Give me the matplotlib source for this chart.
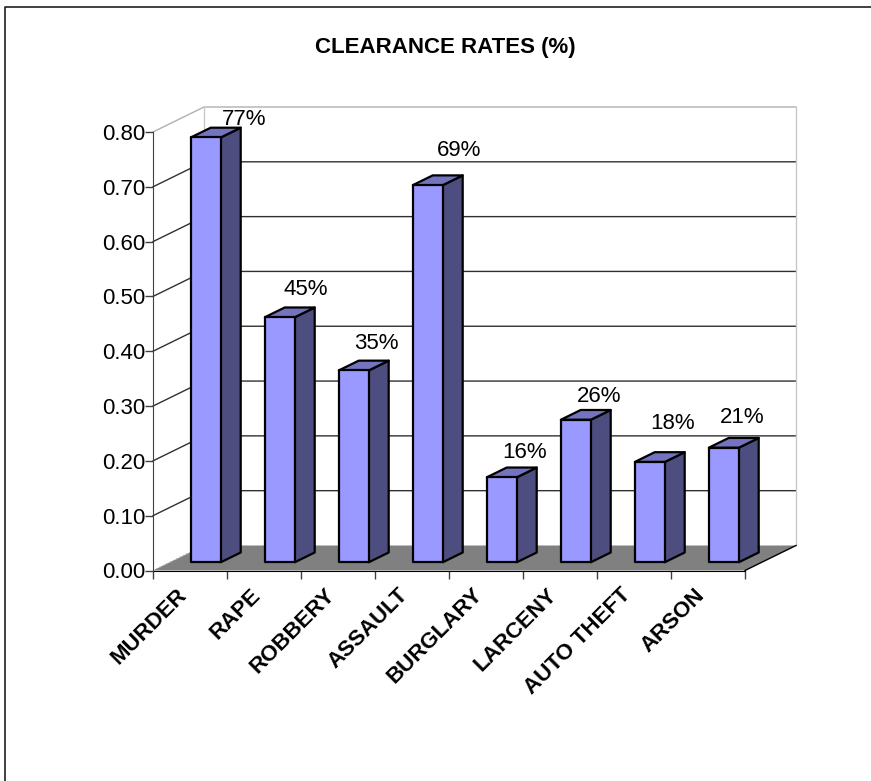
import matplotlib
matplotlib.use("Agg")
import matplotlib.pyplot as plt
from matplotlib.lines import Line2D
from matplotlib.patches import Polygon

plt.rcParams['font.family'] = ['Liberation Sans', 'DejaVu Sans']

# --- DATA ---
categories = ["MURDER", "RAPE", "ROBBERY", "ASSAULT", "BURGLARY", "LARCENY", "AUTO THEFT", "ARSON"]
rates = [0.775, 0.447, 0.35, 0.688, 0.155, 0.26, 0.183, 0.209]
labels = ["77%", "45%", "35%", "69%", "16%", "26%", "18%", "21%"]
y_ticks = [0.0, 0.1, 0.2, 0.3, 0.4, 0.5, 0.6, 0.7, 0.8]

# pixel offset of each data label from the middle of the bar's front top edge
label_dx = [38, 26, 23, 31, 23, 23, 23, 18]
label_dy = [18, 28, 27, 35, 25, 23, 38, 30]

# --- 3D LOOK ---
DEPTH_X = 51 / 74      # full floor depth, in categories
DEPTH_Y = 25 / 548     # full floor depth, in axis units
BAR_W = 0.405
BAR_LEFT = 0.284
BAR_D0, BAR_D1 = 0.33, 0.72

FRONT, TOP, SIDE = "#9999ff", "#7373bf", "#4d4d80"


def proj(x, y, d):
    return (x + d * DEPTH_X, y + d * DEPTH_Y)


W, H = 871, 781
fig = plt.figure(figsize=(W / 100, H / 100), dpi=100)
ax = fig.add_axes([153 / W, 1 - 570.5 / H, 592 / W, 438.5 / H])
ax.set_xlim(0, 8)
ax.set_ylim(0, 0.8)
ax.patch.set_visible(False)

# chart frame, only its top and left sides are inside the picture
fig.add_artist(Line2D([5 / W, 5 / W, 1], [0, 1 - 6.5 / H, 1 - 6.5 / H], transform=fig.transFigure,
                      color="#202020", lw=1.2))

# walls and floor
n = len(categories)
ax.add_patch(Polygon([proj(0, 0, 0), proj(n, 0, 0), proj(n, 0, 1), proj(0, 0, 1)],
                     fc="#808080", ec="none", clip_on=False, zorder=1))
for t in y_ticks[1:]:
    col = "#b0b0b0" if t == y_ticks[-1] else "#303030"
    xs, ys = zip(proj(0, t, 0), proj(0, t, 1), proj(n, t, 1))
    ax.plot(xs, ys, color=col, lw=1, clip_on=False, zorder=1.5)
xs, ys = zip(proj(0, 0, 0), proj(0, 0, 1))
ax.plot(xs, ys, color="#b0b0b0", lw=1, ls=":", clip_on=False, zorder=1.5)
xs, ys = zip(proj(0, 0, 1), proj(0, 0.8, 1))
ax.plot(xs, ys, color="#c8c8c8", lw=1, clip_on=False, zorder=1.5)
xs, ys = zip(proj(n, 0, 1), proj(n, 0.8, 1))
ax.plot(xs, ys, color="#c8c8c8", lw=1, clip_on=False, zorder=1.5)
xs, ys = zip(proj(n, 0, 0), proj(n, 0, 1))
ax.plot(xs, ys, color="black", lw=1, clip_on=False, zorder=1.5)

# bars
for i, v in enumerate(rates):
    x0 = i + BAR_LEFT
    x1 = x0 + BAR_W
    front = [proj(x0, 0, BAR_D0), proj(x1, 0, BAR_D0), proj(x1, v, BAR_D0), proj(x0, v, BAR_D0)]
    side = [proj(x1, 0, BAR_D0), proj(x1, 0, BAR_D1), proj(x1, v, BAR_D1), proj(x1, v, BAR_D0)]
    top = [proj(x0, v, BAR_D0), proj(x1, v, BAR_D0), proj(x1, v, BAR_D1), proj(x0, v, BAR_D1)]
    for pts, col in ((side, SIDE), (top, TOP), (front, FRONT)):
        ax.add_patch(Polygon(pts, fc=col, ec="black", lw=1.6, joinstyle="round",
                             clip_on=False, zorder=3 + i * 0.1))
    ax.annotate(labels[i], xy=proj((x0 + x1) / 2, v, BAR_D0), xytext=(label_dx[i], label_dy[i]),
                textcoords="offset pixels", ha="center", va="center", fontsize=16,
                color="black", zorder=5, annotation_clip=False)

# axes
for s in ("top", "right"):
    ax.spines[s].set_visible(False)
ax.spines["left"].set_color("#404040")
ax.spines["bottom"].set_color("black")
ax.spines["left"].set_zorder(6)
ax.spines["bottom"].set_zorder(2)
ax.set_yticks(y_ticks)
ax.set_yticklabels([f"{t:.2f}" for t in y_ticks], fontsize=16)
ax.tick_params(axis="y", length=5.5, width=1, color="#404040", pad=0, labelcolor="black")
ax.set_xticks(range(n + 1))
ax.set_xticklabels([])
ax.tick_params(axis="x", which="major", length=5.5, width=1, color="#404040")
ax.set_xticks([i + 0.31 for i in range(n)], minor=True)
ax.set_xticklabels(categories, minor=True, rotation=45, ha="right", va="top",
                   rotation_mode="anchor", fontsize=16, fontweight="bold")
ax.tick_params(axis="x", which="minor", length=0, pad=10)

fig.text(445 / W, 1 - 47.5 / H, "CLEARANCE RATES (%)", ha="center", va="center",
         fontsize=16, fontweight="bold")

fig.savefig("out.png", dpi=100, facecolor="white")
